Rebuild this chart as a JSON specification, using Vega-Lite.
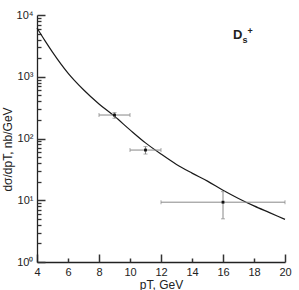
{
  "$schema": "https://vega.github.io/schema/vega-lite/v6.json",
  "width": 248,
  "height": 247,
  "autosize": {"type": "none"},
  "padding": {"left": 37, "top": 15, "right": 14, "bottom": 28},
  "background": "white",
  "config": {"view": {"stroke": null}, "font": "Liberation Sans"},
  "resolve": {"axis": {"x": "independent", "y": "independent"}},
  "datasets": {
    "curve": [
      {"pt": 4, "val": 6166},
      {"pt": 4.5, "val": 3890},
      {"pt": 5, "val": 2512},
      {"pt": 6, "val": 1148},
      {"pt": 7, "val": 617},
      {"pt": 8, "val": 363},
      {"pt": 9, "val": 229},
      {"pt": 10, "val": 138},
      {"pt": 11, "val": 85},
      {"pt": 12, "val": 56},
      {"pt": 13, "val": 38},
      {"pt": 14, "val": 27.5},
      {"pt": 15, "val": 20.4},
      {"pt": 16, "val": 14.5},
      {"pt": 17, "val": 10.7},
      {"pt": 18, "val": 8.1},
      {"pt": 19, "val": 6.3},
      {"pt": 20, "val": 4.9}
    ],
    "points": [
      {"pt": 9, "lo": 8, "hi": 10, "val": 240, "vlo": 213, "vhi": 263},
      {"pt": 11, "lo": 10, "hi": 12, "val": 65, "vlo": 56, "vhi": 74},
      {"pt": 16, "lo": 12, "hi": 20, "val": 9.3, "vlo": 5.0, "vhi": 13.8}
    ],
    "label": [{"pt": 16.645, "val": 4067, "main": "D", "sub": "s", "sup": "+"}]
  },
  "layer": [
    {
      "data": {"name": "curve"},
      "mark": {"type": "line", "color": "#1a1a1a", "strokeWidth": 1.2, "interpolate": "monotone"},
      "encoding": {
        "x": {
          "field": "pt", "type": "quantitative",
          "scale": {"domain": [4, 20], "nice": false, "zero": false},
          "axis": {
            "orient": "bottom",
            "values": [4, 6, 8, 10, 12, 14, 16, 18, 20],
            "ticks": false,
            "labelPadding": 4,
            "labelOverlap": false,
            "domainColor": "#222", "domainWidth": 1.3,
            "labelFontSize": 11, "labelColor": "#222", "labelFlush": false,
            "grid": false,
            "title": "pT, GeV", "titleFontSize": 12, "titleFontWeight": "normal", "titleColor": "#222",
            "titlePadding": 2
          }
        },
        "y": {
          "field": "val", "type": "quantitative",
          "scale": {"type": "log", "domain": [1, 10000], "nice": false},
          "axis": {
            "orient": "left",
            "values": [1, 10, 100, 1000, 10000],
            "ticks": false,
            "labelPadding": 4,
            "labelOverlap": false,
            "labelExpr": "'10' + ['⁰','¹','²','³','⁴'][indexof([1,10,100,1000,10000], datum.value)]",
            "domainColor": "#222", "domainWidth": 1.3,
            "labelFontSize": 11, "labelColor": "#222", "labelFlush": false,
            "grid": false,
            "title": "dσ/dpT, nb/GeV", "titleFontSize": 12, "titleFontWeight": "normal", "titleColor": "#222",
            "titleX": -30, "titleY": 134, "titleAlign": "center", "titleBaseline": "middle", "titleAngle": 270
          }
        }
      }
    },
    {
      "data": {"name": "points"},
      "mark": {"type": "rule", "color": "#888", "strokeWidth": 1},
      "encoding": {
        "x": {
          "field": "lo", "type": "quantitative",
          "axis": {"orient": "bottom", "values": [4, 8, 12, 16, 20], "tickSize": 8, "offset": -8, "tickColor": "#333", "tickWidth": 1.5, "labels": false, "domain": false, "grid": false, "title": null}
        },
        "x2": {"field": "hi"},
        "y": {
          "field": "val", "type": "quantitative",
          "axis": {"orient": "left", "values": [1, 10, 100, 1000, 10000], "tickSize": 8, "offset": -8, "tickColor": "#333", "tickWidth": 1.5, "labels": false, "domain": false, "grid": false, "title": null}
        }
      }
    },
    {
      "data": {"name": "points"},
      "mark": {"type": "rule", "color": "#888", "strokeWidth": 1},
      "encoding": {
        "x": {
          "field": "pt", "type": "quantitative",
          "axis": {"orient": "bottom", "values": [6, 10, 14, 18], "tickSize": 4, "offset": -4, "tickColor": "#333", "tickWidth": 1.5, "labels": false, "domain": false, "grid": false, "title": null}
        },
        "y": {
          "field": "vlo", "type": "quantitative",
          "axis": {"orient": "left", "values": [2,3,4,5,6,7,8,9,20,30,40,50,60,70,80,90,200,300,400,500,600,700,800,900,2000,3000,4000,5000,6000,7000,8000,9000], "tickSize": 4, "offset": -4, "tickColor": "#333", "tickWidth": 1.3, "labels": false, "domain": false, "grid": false, "title": null}
        },
        "y2": {"field": "vhi"}
      }
    },
    {
      "data": {"name": "points"},
      "mark": {"type": "tick", "orient": "vertical", "color": "#888", "size": 4, "thickness": 1},
      "encoding": {
        "x": {"field": "lo", "type": "quantitative", "axis": null},
        "y": {"field": "val", "type": "quantitative", "axis": null}
      }
    },
    {
      "data": {"name": "points"},
      "mark": {"type": "tick", "orient": "vertical", "color": "#888", "size": 4, "thickness": 1},
      "encoding": {
        "x": {"field": "hi", "type": "quantitative", "axis": null},
        "y": {"field": "val", "type": "quantitative", "axis": null}
      }
    },
    {
      "data": {"name": "points"},
      "mark": {"type": "tick", "orient": "horizontal", "color": "#888", "size": 4, "thickness": 1},
      "encoding": {
        "x": {"field": "pt", "type": "quantitative", "axis": null},
        "y": {"field": "vlo", "type": "quantitative", "axis": null}
      }
    },
    {
      "data": {"name": "points"},
      "mark": {"type": "tick", "orient": "horizontal", "color": "#888", "size": 4, "thickness": 1},
      "encoding": {
        "x": {"field": "pt", "type": "quantitative", "axis": null},
        "y": {"field": "vhi", "type": "quantitative", "axis": null}
      }
    },
    {
      "data": {"name": "points"},
      "mark": {"type": "point", "shape": "square", "filled": true, "color": "#111", "size": 8, "opacity": 1},
      "encoding": {
        "x": {"field": "pt", "type": "quantitative", "axis": null},
        "y": {"field": "val", "type": "quantitative", "axis": null}
      }
    },
    {
      "data": {"name": "label"},
      "mark": {"type": "text", "align": "left", "baseline": "alphabetic", "fontSize": 13, "fontWeight": "bold", "color": "#222"},
      "encoding": {
        "x": {"field": "pt", "type": "quantitative", "axis": null},
        "y": {"field": "val", "type": "quantitative", "axis": null},
        "text": {"field": "main"}
      }
    },
    {
      "data": {"name": "label"},
      "mark": {"type": "text", "align": "left", "baseline": "alphabetic", "fontSize": 9, "fontWeight": "bold", "color": "#222", "dx": 9.5, "dy": 4},
      "encoding": {
        "x": {"field": "pt", "type": "quantitative", "axis": null},
        "y": {"field": "val", "type": "quantitative", "axis": null},
        "text": {"field": "sub"}
      }
    },
    {
      "data": {"name": "label"},
      "mark": {"type": "text", "align": "left", "baseline": "alphabetic", "fontSize": 9, "fontWeight": "bold", "color": "#222", "dx": 14.5, "dy": -5},
      "encoding": {
        "x": {"field": "pt", "type": "quantitative", "axis": null},
        "y": {"field": "val", "type": "quantitative", "axis": null},
        "text": {"field": "sup"}
      }
    }
  ]
}
